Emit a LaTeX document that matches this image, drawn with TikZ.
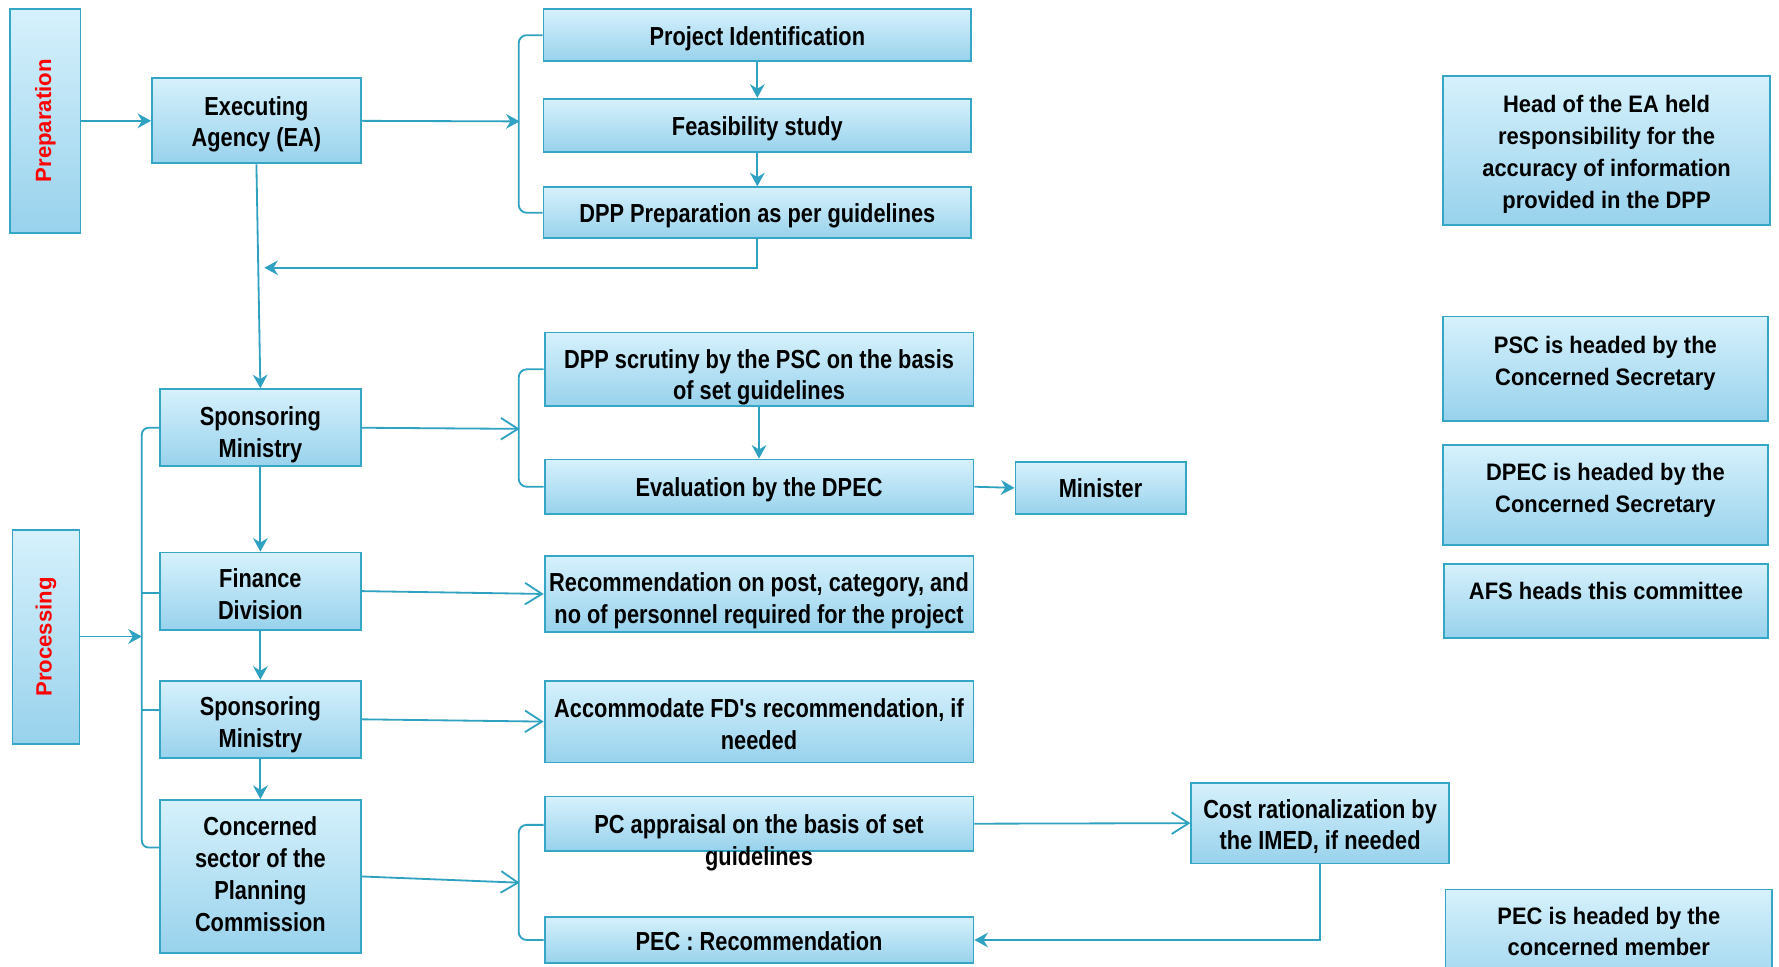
\documentclass[tikz,border=0pt]{standalone}
\usepackage{fontspec}
\setmainfont{Liberation Sans}
\newfontfamily\narrowsans[FakeStretch=0.835]{Liberation Sans}
\newfontfamily\notesans[FakeStretch=0.92]{Liberation Sans}
\usetikzlibrary{arrows.meta,calc}
\definecolor{boxtop}{HTML}{D6F1FC}
\definecolor{boxbot}{HTML}{98D2EC}
\definecolor{edgeblue}{HTML}{36A6C6}
\definecolor{wireblue}{HTML}{2FA2C2}
\begin{document}
\begin{tikzpicture}[x=1pt,y=-1pt,
  box/.style={draw=edgeblue, line width=1.6pt, top color=boxtop, bottom color=boxbot, inner sep=0pt},
  txt/.style={inner sep=0pt, align=center, text=black, font=\narrowsans\bfseries\fontsize{23}{28}\selectfont},
  notetext/.style={inner sep=0pt, align=center, text=black, font=\notesans\bfseries\fontsize{21}{28}\selectfont},
  % box text placed at the centre, lowered by #1
  say/.style 2 args={label={[txt,yshift=-#1]center:{#2}}},
  phasetext/.style={inner sep=0pt, rotate=90, text=red, font=\bfseries\fontsize{19.5}{24}\selectfont},
  wire/.style={draw=wireblue, line width=1.6pt},
  fa/.style={wire, -{Stealth[length=12pt,width=13pt,inset=4pt]}},
  oa/.style={wire, -{Straight Barb[length=15pt,width=19pt,line width=1.6pt]}},
]
\clip (0,0) rectangle (1568,852);

% phase bars
\node[box, minimum width=62, minimum height=197] (prep) at (40,106.5) {};
\node[phasetext] (preplabel) at (prep.center) {Preparation};
\node[box, minimum width=59, minimum height=189] (proc) at (40.5,561.5) {};
\node[phasetext] (proclabel) at (proc.center) {Processing};

% left column
\node[box, minimum width=184, minimum height=75, say={3pt}{Executing\\Agency (EA)}] (ea) at (226,106.5) {};
\node[box, minimum width=177, minimum height=68, say={6pt}{Sponsoring\\Ministry}] (sm1) at (229.5,377) {};
\node[box, minimum width=177, minimum height=68, say={3pt}{Finance\\Division}] (fd) at (229.5,521) {};
\node[box, minimum width=177, minimum height=68, say={5pt}{Sponsoring\\Ministry}] (sm2) at (229.5,634) {};
\node[box, minimum width=177, minimum height=135, say={-2pt}{Concerned\\sector of the\\Planning\\Commission}] (cs) at (229.5,772.5) {};

% middle column
\node[box, minimum width=377, minimum height=46, say={3pt}{Project Identification}] (pid) at (667.5,31) {};
\node[box, minimum width=377, minimum height=47, say={3pt}{Feasibility study}] (feas) at (667.5,110.5) {};
\node[box, minimum width=377, minimum height=45, say={3pt}{DPP Preparation as per guidelines}] (dpp) at (667.5,187.5) {};
\node[box, minimum width=378, minimum height=65, say={7pt}{DPP scrutiny by the PSC on the basis\\of set guidelines}] (psc) at (669,325.5) {};
\node[box, minimum width=378, minimum height=48, say={3pt}{Evaluation by the DPEC}] (dpec) at (669,429) {};
\node[box, minimum width=150, minimum height=46, say={0pt}{Minister}] (min) at (970,430) {};
\node[box, minimum width=378, minimum height=67, say={6pt}{Recommendation on post, category, and\\no of personnel required for the project}] (rec) at (669,523.5) {};
\node[box, minimum width=378, minimum height=72, say={2pt}{Accommodate FD's recommendation, if\\needed}] (acc) at (669,636) {};
\node[box, minimum width=378, minimum height=48] (pc) at (669,726) {};
\node[txt] (pctext) at (669,743) {PC appraisal on the basis of set\\guidelines};
\node[box, minimum width=378, minimum height=41, say={1pt}{PEC : Recommendation}] (pec) at (669,828.5) {};
\node[box, minimum width=227, minimum height=71, say={3pt}{Cost rationalization by\\the IMED, if needed}] (cost) at (1163.5,725.5) {};

% notes on the right
\node[box, minimum width=288, minimum height=131] (n1) at (1416,132.5) {};
\node[notetext] (n1t) at (1416,136) {Head of the EA held\\responsibility for the\\accuracy of information\\provided in the DPP};
\node[box, minimum width=286, minimum height=92] (n2) at (1415,325) {};
\node[notetext] (n2t) at (1415,320) {PSC is headed by the\\Concerned Secretary};
\node[box, minimum width=286, minimum height=88] (n3) at (1415,436) {};
\node[notetext] (n3t) at (1415,432) {DPEC is headed by the\\Concerned Secretary};
\node[box, minimum width=285, minimum height=65] (n4) at (1415.5,529.5) {};
\node[notetext] (n4t) at (1415.5,521) {AFS heads this committee};
\node[box, minimum width=288, minimum height=96] (n5) at (1418,832) {};
\node[notetext] (n5t) at (1418,821) {PEC is headed by the\\concerned member};

% bracket end points
\coordinate (b1) at (458,107);
\coordinate (b2) at (458,378);
\coordinate (b3) at (458,778);
\coordinate (bl) at (125,561);
\coordinate (ret) at (233,236);

% preparation flow
\draw[fa] (prep.east |- ea.west) -- (ea.west);
\draw[fa] (ea.east) -- (b1);
\draw[wire, rounded corners=7] (pid.west) -- ++(-21,0) |- (dpp.west);
\draw[fa] (pid.south) -- (feas.north);
\draw[fa] (feas.south) -- (dpp.north);
\draw[fa] (dpp.south) |- (ret);
\draw[fa] (ea.south) -- (sm1.north);

% processing flow
\draw[fa] (proc.east |- bl) -- (bl);
\draw[wire, rounded corners=6] (sm1.west) -- (125,377) -- (125,747) -- (cs.west |- 0,747);
\draw[wire] (125,523) -- (fd.west |- 0,523);
\draw[wire] (125,626) -- (sm2.west |- 0,626);
\draw[fa] (sm1.south) -- (fd.north);
\draw[fa] (fd.south) -- (sm2.north);
\draw[fa] (sm2.south) -- (cs.north);

\draw[oa] (sm1.east) -- (b2);
\draw[wire, rounded corners=7] (psc.west) -- ++(-22,0) |- (dpec.west);
\draw[fa] (psc.south) -- (dpec.north);
\draw[fa] (dpec.east) -- (min.west);
\draw[oa] (fd.east) -- (rec.west);
\draw[oa] (sm2.east) -- (acc.west);
\draw[oa] (cs.east) -- (b3);
\draw[wire, rounded corners=7] (pc.west |- 0,727) -- ++(-22,0) |- (pec.west);
\draw[oa] (pc.east) -- (cost.west);
\draw[fa] (cost.south) |- (pec.east);
\end{tikzpicture}
\end{document}
